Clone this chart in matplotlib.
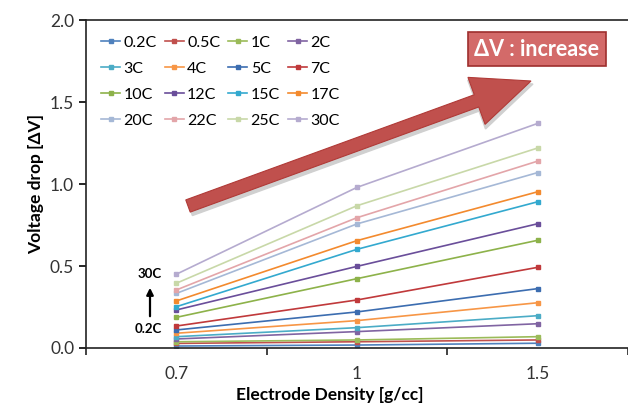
import matplotlib
matplotlib.use('Agg')
import matplotlib.pyplot as plt
import matplotlib.patches as mpatches
from matplotlib.transforms import IdentityTransform

plt.rcParams['font.family'] = ['Lato', 'DejaVu Sans']

# categorias del eje x
densidad = ['0.7', '1', '1.5']

# series (C-rate) y sus valores de caida de voltaje
series = ['0.2C', '0.5C', '1C', '2C', '3C', '4C', '5C', '7C',
          '10C', '12C', '15C', '17C', '20C', '22C', '25C', '30C']
v_02 = [0.012, 0.018, 0.029]
v_05 = [0.028, 0.038, 0.049]
v_1 = [0.038, 0.049, 0.069]
v_2 = [0.055, 0.100, 0.148]
v_3 = [0.069, 0.124, 0.197]
v_4 = [0.090, 0.167, 0.276]
v_5 = [0.110, 0.220, 0.362]
v_7 = [0.134, 0.293, 0.492]
v_10 = [0.187, 0.423, 0.657]
v_12 = [0.232, 0.498, 0.758]
v_15 = [0.252, 0.602, 0.892]
v_17 = [0.287, 0.655, 0.953]
v_20 = [0.333, 0.757, 1.07]
v_22 = [0.354, 0.795, 1.14]
v_25 = [0.395, 0.868, 1.22]
v_30 = [0.450, 0.980, 1.37]
valores = [v_02, v_05, v_1, v_2, v_3, v_4, v_5, v_7,
           v_10, v_12, v_15, v_17, v_20, v_22, v_25, v_30]

colores = ['#4F81BD', '#C0504D', '#9BBB59', '#8064A2', '#4BACC6', '#F79646',
           '#3C6DB0', '#C0393B', '#8DB24A', '#6A4E9A', '#33A9CF', '#F38A2E',
           '#A5B8D6', '#E3A5A9', '#C8D8A8', '#B5ABCF']

fig = plt.figure(figsize=(6.28, 4.03), dpi=100)
ax = fig.add_axes([0.137, 0.1365, 0.863, 0.8135])

x = list(range(len(densidad)))
lineas = []
for nombre, vals, c in zip(series, valores, colores):
    l, = ax.plot(x, vals, color=c, lw=1.2, marker='s', ms=3.5, label=nombre)
    lineas.append(l)

ax.set_xlim(-0.5, 2.5)
ax.set_ylim(0, 2.0)
ax.set_yticks([0, 0.5, 1.0, 1.5, 2.0])
ax.set_yticklabels(['0.0', '0.5', '1.0', '1.5', '2.0'])
ax.set_xticks(x)
ax.set_xticklabels(densidad)
ax.set_xticks([-0.5, 0.5, 1.5, 2.5], minor=True)
ax.tick_params(axis='x', which='major', length=0, labelsize=12.5, colors='#333333', pad=13)
ax.tick_params(axis='x', which='minor', length=5, width=1.2, direction='out', color='#222222')
ax.tick_params(axis='y', length=5, width=1.2, direction='out', labelsize=12.5, labelcolor='#333333')
for s in ['left', 'bottom', 'top']:
    ax.spines[s].set_linewidth(1.2)
    ax.spines[s].set_color('#222222')
ax.spines['right'].set_visible(False)

ax.set_ylabel('Voltage drop [ΔV]', fontsize=12.5, fontweight='bold', labelpad=4)
ax.set_xlabel('Electrode Density [g/cc]', fontsize=12.5, fontweight='bold')
ax.xaxis.set_label_coords(0.45, -0.12)

# leyenda por filas (4 columnas)
ncol = 4
nfil = len(lineas) // ncol
orden = [f * ncol + c for c in range(ncol) for f in range(nfil)]
ax.legend([lineas[i] for i in orden], [series[i] for i in orden],
          ncol=ncol, loc='upper left', bbox_to_anchor=(0.0, 1.0), frameon=False,
          fontsize=11.5, handlelength=1.2, handletextpad=0.2, columnspacing=0.5,
          labelspacing=0.75, borderaxespad=0.55, markerscale=0.8)

# flecha grande (coordenadas en pixeles de la figura)
alto = 403
sombra = mpatches.FancyArrow(190, alto - 209, 343, 125, width=14, head_width=52,
                             head_length=60, length_includes_head=True,
                             transform=IdentityTransform(), color='#D0D0D0', zorder=5)
flecha = mpatches.FancyArrow(188, alto - 206, 343, 125, width=13, head_width=50,
                             head_length=58, length_includes_head=True,
                             transform=IdentityTransform(), facecolor='#C0504D',
                             edgecolor='#B03A37', lw=0.8, zorder=6)
fig.patches.append(sombra)
fig.patches.append(flecha)

fig.text(537 / 628, 1 - 49 / alto, 'ΔV : increase', ha='center', va='center',
         fontsize=15.5, fontweight='bold', color='white', zorder=7,
         bbox=dict(boxstyle='square,pad=0.28', facecolor='#D36A69', edgecolor='#9E2F2D', lw=1.2))

# anotacion 0.2C -> 30C
ax.annotate('', xy=(150, alto - 285), xytext=(150, alto - 319), xycoords='figure pixels',
            textcoords='figure pixels',
            arrowprops=dict(arrowstyle='-|>', color='black', lw=1.6, mutation_scale=10))
fig.text(150 / 628, 1 - 274 / alto, '30C', ha='center', va='center', fontsize=9.5, fontweight='bold')
fig.text(148 / 628, 1 - 329 / alto, '0.2C', ha='center', va='center', fontsize=9.5, fontweight='bold')

fig.savefig('out.png', dpi=100)
